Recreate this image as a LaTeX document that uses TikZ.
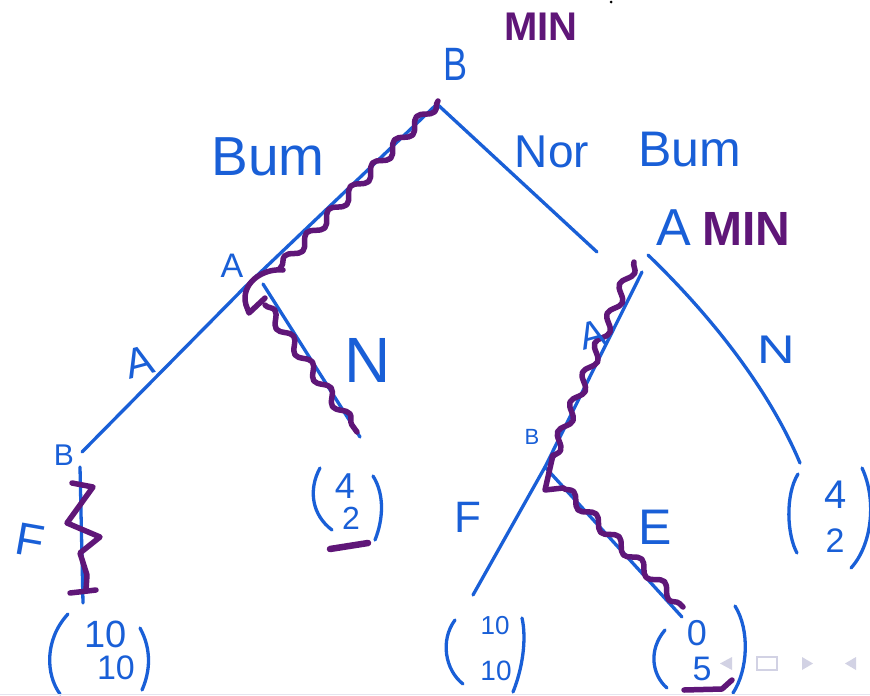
\documentclass[tikz,border=0pt]{standalone}
\usepackage{fontspec}
\setmainfont{Liberation Sans}
\usetikzlibrary{decorations.pathmorphing}
\definecolor{ink}{RGB}{25,95,215}
\definecolor{hl}{RGB}{95,22,120}
\definecolor{uigrey}{RGB}{210,210,228}
\newcommand\fsz[1]{\fontsize{#1}{#1}\selectfont}
\tikzset{
  edge/.style={ink, line width=3.3pt, line cap=round, line join=round},
  paren/.style={ink, line width=3.3pt, line cap=round},
  hlstroke/.style={hl, line width=5.5pt, line cap=round, line join=round},
  wave/.style={hlstroke, decorate, decoration={snake, amplitude=5pt, segment length=32pt}},
  lbl/.style={ink, inner sep=0pt},
  minlbl/.style={hl, inner sep=0pt},
}
\begin{document}
\begin{tikzpicture}[x=1pt,y=-1pt]
\useasboundingbox (0,0) rectangle (870,696);
\fill[white] (0,0) rectangle (870,696);

% tree vertices
\coordinate (root) at (437,104);
\coordinate (aL) at (245,287);
\coordinate (aLn) at (263,284);
\coordinate (bL) at (82,452);
\coordinate (bLtop) at (80,467);
\coordinate (leafLL) at (83,603);
\coordinate (leafLN) at (360,437);
\coordinate (rightEnd) at (597,252);
\coordinate (aR) at (642,272);
\coordinate (aRn) at (648,255);
\coordinate (bR) at (545,467);
\coordinate (leafRF) at (473,595);
\coordinate (leafRE) at (682,617);
\coordinate (leafRN) at (800,463);

% edges
\draw[edge] (root) -- (aL);
\draw[edge] (aL) -- (bL);
\draw[edge] (aLn) -- (leafLN);
\draw[edge] (bLtop) -- (leafLL);
\draw[edge] (root) -- (rightEnd);
\draw[edge] (aR) -- (bR);
\draw[edge] (bR) -- (leafRF);
\draw[edge] (bR) -- (leafRE);
\draw[edge] (aRn) .. controls (700,305) and (765,380) .. (leafRN);

% purple highlights
\draw[wave] (438,101) -- (280,268);
\draw[hlstroke] (283,270) .. controls (262,268) and (240,284) .. (246,305) -- (249,313) -- (265,298);
\draw[wave] (265,305) -- (357,432);
\draw[hlstroke] (72,483) -- (93,487) -- (67,523) -- (100,537) -- (80,553) -- (87,575) -- (86,590);
\draw[hlstroke] (70,593) -- (96,590);
\draw[hlstroke, line width=6.5pt] (330,549) -- (368,543);
\draw[wave] (634,262) -- (552,458);
\draw[hlstroke] (553,455) -- (545,490) -- (563,488);
\draw[wave] (563,488) -- (683,607);
\draw[hlstroke] (684,690) -- (722,689) -- (732,680);

% labels
\node[lbl, font=\fsz{36}, yscale=1.3] (rootB) at (456,64) {B};
\node[minlbl, font=\fsz{40}\bfseries] (min1) at (541,27) {MIN};
\node[lbl, font=\fsz{55}] (bum1) at (268,157) {Bum};
\node[lbl, font=\fsz{46}] (nor) at (552,152) {Nor};
\node[lbl, font=\fsz{50}] (bum2) at (690,150) {Bum};
\node[lbl, font=\fsz{52}] (aRlbl) at (674,228) {A};
\node[minlbl, font=\fsz{48}\bfseries] (min2) at (746,229) {MIN};
\node[lbl, font=\fsz{34}] (aLlbl) at (232,266) {A};
\node[lbl, font=\fsz{42}, rotate=15] (eA1) at (139,362) {A};
\node[lbl, font=\fsz{64}] (eN1) at (368,360) {N};
\node[lbl, font=\fsz{30}] (bLlbl) at (64,455) {B};
\node[lbl, font=\fsz{46}, rotate=-10] (eF1) at (30,540) {F};
\node[lbl, font=\fsz{38}, rotate=15] (eA2) at (592,335) {A};
\node[lbl, font=\fsz{40}, xscale=1.3] (eN2) at (776,350) {N};
\node[lbl, font=\fsz{22}] (bRlbl) at (532,437) {B};
\node[lbl, font=\fsz{44}] (eF2) at (468,517) {F};
\node[lbl, font=\fsz{50}] (eE) at (655,527) {E};

% payoffs
\node[lbl, font=\fsz{38}] (p1a) at (106,634) {10};
\node[lbl, font=\fsz{34}] (p1b) at (116,668) {10};
\draw[paren] (68,614) .. controls (44,640) and (46,675) .. (60,694);
\draw[paren] (140,628) .. controls (152,650) and (150,672) .. (142,690);

\node[lbl, font=\fsz{36}] (p2a) at (345,486) {4};
\node[lbl, font=\fsz{32}] (p2b) at (351,518) {2};
\draw[paren] (320,468) .. controls (308,490) and (312,515) .. (332,530);
\draw[paren] (373,476) .. controls (385,495) and (383,520) .. (375,540);

\node[lbl, font=\fsz{26}] (p3a) at (495,626) {10};
\node[lbl, font=\fsz{28}] (p3b) at (496,671) {10};
\draw[paren] (455,620) .. controls (440,640) and (445,670) .. (463,684);
\draw[paren] (522,618) .. controls (527,640) and (522,670) .. (513,692);

\node[lbl, font=\fsz{36}] (p4a) at (697,633) {0};
\node[lbl, font=\fsz{34}] (p4b) at (702,669) {5};
\draw[paren] (665,630) .. controls (648,650) and (652,675) .. (667,688);
\draw[paren] (735,606) .. controls (750,630) and (748,670) .. (733,693);

\node[lbl, font=\fsz{40}] (p5a) at (836,495) {4};
\node[lbl, font=\fsz{34}] (p5b) at (835,541) {2};
\draw[paren] (798,474) .. controls (785,495) and (787,535) .. (797,553);
\draw[paren] (862,468) .. controls (877,500) and (872,545) .. (851,568);

% navigation symbols
\fill[uigrey] (732,657) -- (720,663.5) -- (732,670) -- cycle;
\draw[uigrey, line width=2pt] (757,657) rectangle (777,670);
\fill[uigrey] (802,657) -- (813,663.5) -- (802,670) -- cycle;
\fill[uigrey] (856,657) -- (845,663.5) -- (856,670) -- cycle;
\draw[uigrey!60, line width=1pt] (0,694.5) -- (870,694.5);
\fill[black] (611,2) circle (1.5pt);
\end{tikzpicture}
\end{document}
